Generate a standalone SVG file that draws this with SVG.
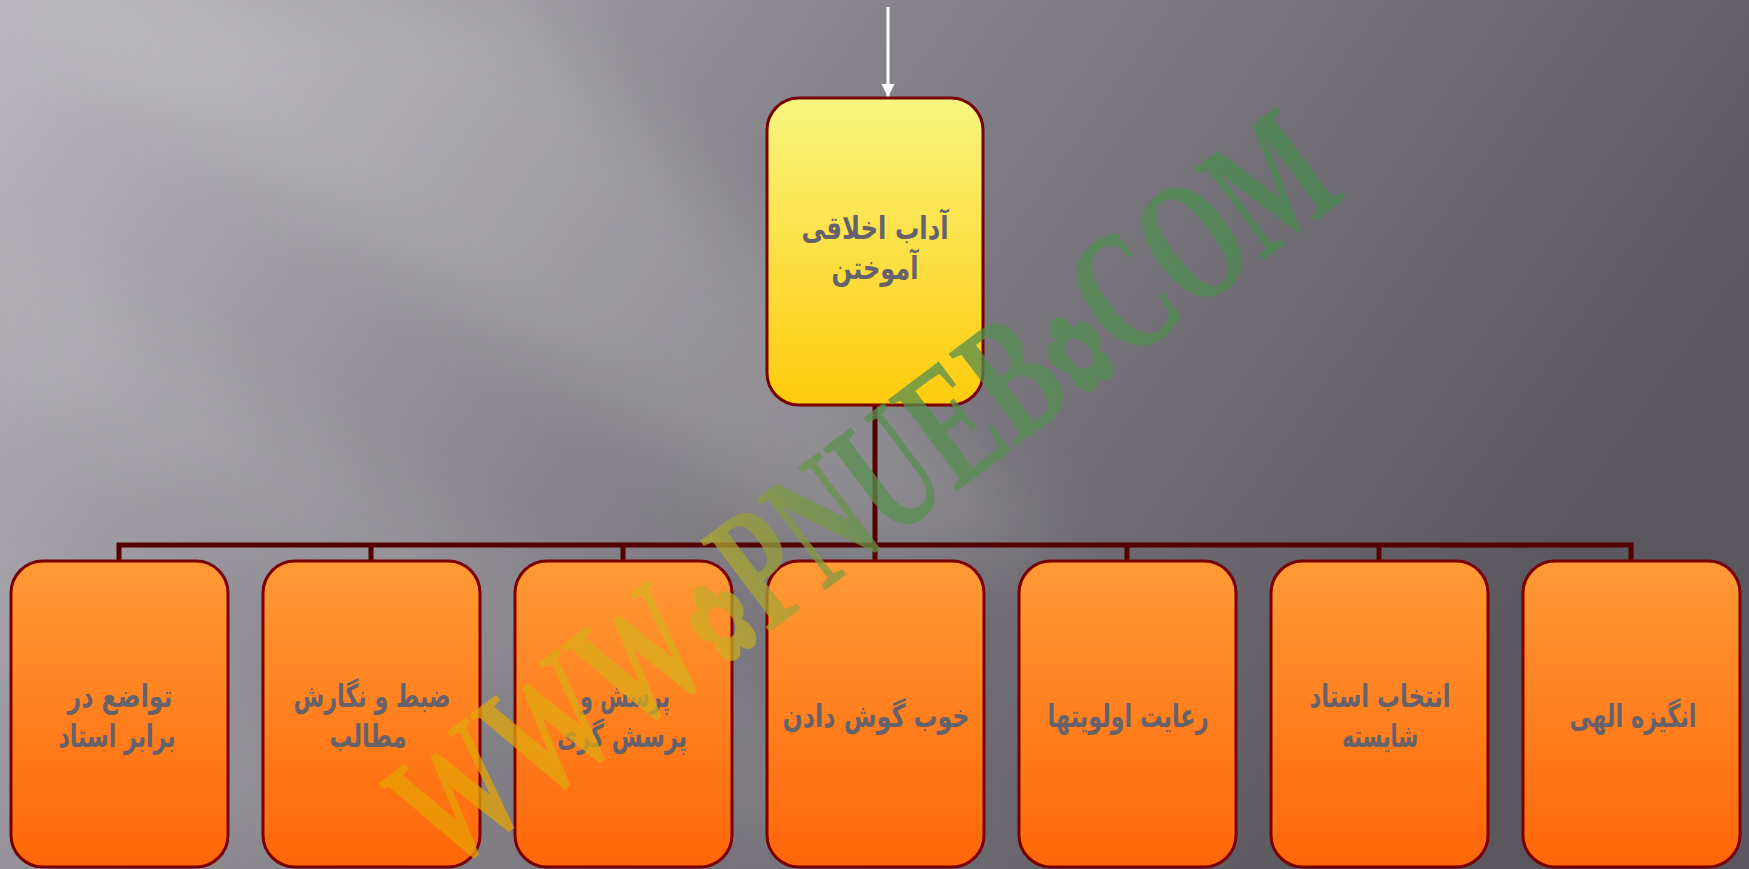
<svg xmlns="http://www.w3.org/2000/svg" width="1749" height="869" viewBox="0 0 1749 869">
<defs>
<linearGradient id="bg" x1="0" y1="0" x2="1" y2="0.35">
<stop offset="0" stop-color="#b9b7bd"/>
<stop offset="0.45" stop-color="#87858b"/>
<stop offset="1" stop-color="#5a585e"/>
</linearGradient>
<filter id="blur" x="-20%" y="-20%" width="140%" height="140%">
<feGaussianBlur stdDeviation="35"/>
</filter>
<linearGradient id="yel" x1="0" y1="0" x2="0" y2="1">
<stop offset="0" stop-color="#f8f57e"/>
<stop offset="1" stop-color="#ffcb0c"/>
</linearGradient>
<linearGradient id="org" x1="0" y1="0" x2="0" y2="1">
<stop offset="0" stop-color="#ff9a35"/>
<stop offset="1" stop-color="#ff6608"/>
</linearGradient>
<linearGradient id="wm" x1="0" y1="0" x2="1" y2="0" gradientUnits="objectBoundingBox">
<stop offset="0" stop-color="#e8a000"/>
<stop offset="0.3" stop-color="#d8b020"/>
<stop offset="0.5" stop-color="#5a9050"/>
<stop offset="1" stop-color="#4a8a50"/>
</linearGradient>
<marker id="arr" viewBox="0 0 10 10" refX="10" refY="5" markerWidth="4.5" markerHeight="4.5" orient="auto" markerUnits="strokeWidth">
<path d="M0,0 L10,5 L0,10 z" fill="#ffffff"/>
</marker>
<style>
.node{stroke:#7a0000;stroke-width:3}
.top{fill:url(#yel)}
.leaf{fill:url(#org)}
.lbl{font-family:"DejaVu Sans",sans-serif;font-weight:bold;font-size:32px;fill:#65626c;text-anchor:middle}
.conn{stroke:#540000;stroke-width:5;fill:none}
</style>
</defs>
<rect x="0" y="0" width="1749" height="869" fill="url(#bg)"/>
<g filter="url(#blur)">
<polygon points="0,0 520,0 1050,540 850,560" fill="#ffffff" fill-opacity="0.14"/>
<polygon points="0,230 0,380 800,869 1000,869" fill="#ffffff" fill-opacity="0.07"/>
<polygon points="0,560 0,680 300,869 480,869" fill="#ffffff" fill-opacity="0.06"/>
</g>

<g id="connectors">
<line x1="888" y1="7" x2="888" y2="97" stroke="#ffffff" stroke-width="3" marker-end="url(#arr)"/>
<line class="conn" x1="875" y1="405" x2="875" y2="545"/>
<polyline class="conn" points="119,561 119,545 1631,545 1631,561"/>
<line class="conn" x1="371" y1="545" x2="371" y2="561"/>
<line class="conn" x1="623" y1="545" x2="623" y2="561"/>
<line class="conn" x1="875" y1="545" x2="875" y2="561"/>
<line class="conn" x1="1127" y1="545" x2="1127" y2="561"/>
<line class="conn" x1="1379" y1="545" x2="1379" y2="561"/>
</g>

<g id="n0">
<rect class="node top" x="767" y="98" width="216" height="307" rx="32"/>
<text class="lbl" x="875" y="239" textLength="147" lengthAdjust="spacingAndGlyphs">آداب اخلاقی</text>
<text class="lbl" x="875" y="279" textLength="87" lengthAdjust="spacingAndGlyphs">آموختن</text>
</g>
<g id="n1">
<rect class="node leaf" x="11" y="561" width="217" height="306" rx="32"/>
<text class="lbl" x="120" y="707" textLength="105" lengthAdjust="spacingAndGlyphs">تواضع در</text>
<text class="lbl" x="117" y="747" textLength="117" lengthAdjust="spacingAndGlyphs">برابر استاد</text>
</g>
<g id="n2">
<rect class="node leaf" x="263" y="561" width="217" height="306" rx="32"/>
<text class="lbl" x="372" y="707" textLength="157" lengthAdjust="spacingAndGlyphs">ضبط و نگارش</text>
<text class="lbl" x="368" y="747" textLength="77" lengthAdjust="spacingAndGlyphs">مطالب</text>
</g>
<g id="n3">
<rect class="node leaf" x="515" y="561" width="217" height="306" rx="32"/>
<text class="lbl" x="625" y="707" textLength="90" lengthAdjust="spacingAndGlyphs">پرسش و</text>
<text class="lbl" x="622" y="747" textLength="130" lengthAdjust="spacingAndGlyphs">پرسش گری</text>
</g>
<g id="n4">
<rect class="node leaf" x="767" y="561" width="217" height="306" rx="32"/>
<text class="lbl" x="876" y="727" textLength="187" lengthAdjust="spacingAndGlyphs">خوب گوش دادن</text>
</g>
<g id="n5">
<rect class="node leaf" x="1019" y="561" width="217" height="306" rx="32"/>
<text class="lbl" x="1128" y="727" textLength="161" lengthAdjust="spacingAndGlyphs">رعایت اولویتها</text>
</g>
<g id="n6">
<rect class="node leaf" x="1271" y="561" width="217" height="306" rx="32"/>
<text class="lbl" x="1380" y="707" textLength="141" lengthAdjust="spacingAndGlyphs">انتخاب استاد</text>
<text class="lbl" x="1380" y="747" textLength="76" lengthAdjust="spacingAndGlyphs">شایسته</text>
</g>
<g id="n7">
<rect class="node leaf" x="1523" y="561" width="217" height="306" rx="32"/>
<text class="lbl" x="1633" y="727" textLength="127" lengthAdjust="spacingAndGlyphs">انگیزه الهی</text>
</g>

<g id="watermark" transform="translate(862,490) rotate(-37)" opacity="0.75">
<text x="0" y="58" text-anchor="middle" textLength="1130" lengthAdjust="spacingAndGlyphs" font-family="Liberation Serif, serif" font-weight="bold" font-size="175" fill="url(#wm)">WWW<tspan font-size="110">✿</tspan>PNUEB<tspan font-size="110">✿</tspan>COM</text>
</g>
</svg>
